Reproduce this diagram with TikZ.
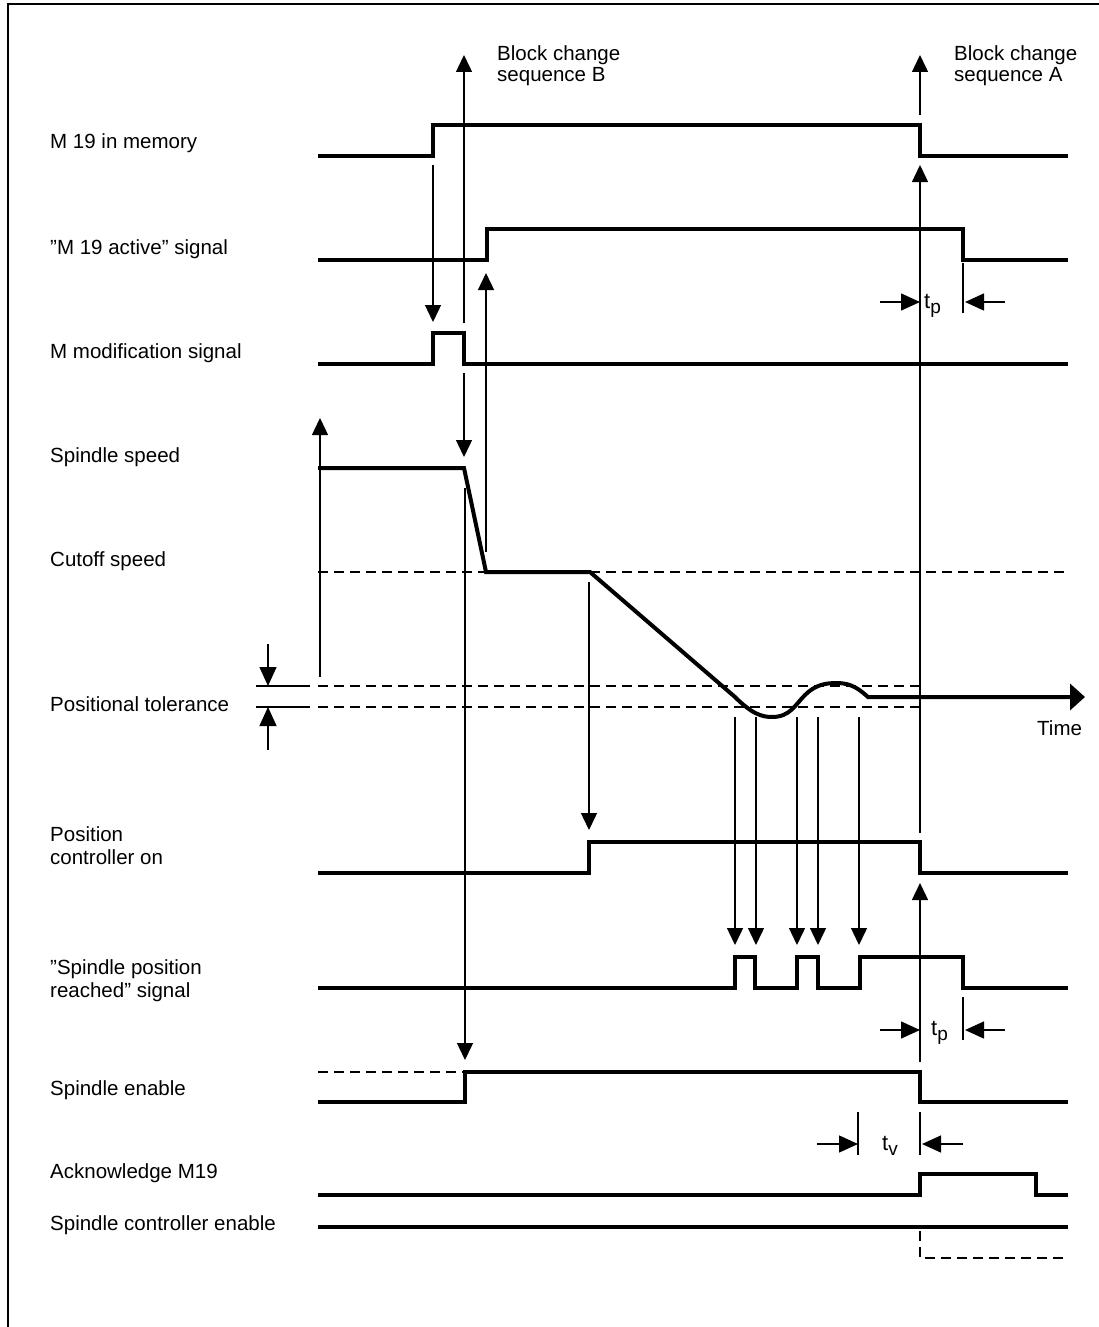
\documentclass[tikz,border=0pt]{standalone}
\usepackage{fontspec}
\setmainfont{Liberation Sans}
\usetikzlibrary{arrows.meta}

\newcommand{\tsub}[1]{t\raisebox{-5pt}{\fontsize{19}{20}\selectfont #1}}

\tikzset{
  sig/.style={line width=4pt,line join=miter},
  evt/.style={line width=1.4pt,-{Triangle[length=17pt,width=16pt]}},
  dim/.style={line width=1.4pt,-{Triangle[length=19pt,width=17pt]}},
  lim/.style={line width=1.4pt,dash pattern=on 10pt off 6pt},
  lbl/.style={anchor=base west,inner sep=0pt,font=\fontsize{20.5}{24.5}\selectfont},
  tlbl/.style={anchor=base west,inner sep=0pt,font=\fontsize{22}{24}\selectfont},
}

\begin{document}
\begin{tikzpicture}[x=1pt,y=-1pt]
\useasboundingbox (0,0) rectangle (1099,1327);
\draw[line width=1.4pt] (8,1327)--(8,4)--(1099,4);

% signal names
\foreach \txt/\y/\nm in {M 19 in memory/149/mem,”M 19 active” signal/254/act,
  M modification signal/358/mod,Spindle speed/462/spd,Cutoff speed/566/cut,
  Positional tolerance/711/tol,Position/841/posa,controller on/864/posb,
  ”Spindle position/974/rcha,reached” signal/997/rchb,Spindle enable/1095/ena,
  Acknowledge M19/1178/ack,Spindle controller enable/1230/ctl}
  \node[lbl] (\nm) at (50,\y) {\txt};
\node[lbl] (blkB1) at (497,61) {Block change};
\node[lbl] (blkB2) at (497,82) {sequence B};
\node[lbl] (blkA1) at (954,61) {Block change};
\node[lbl] (blkA2) at (954,82) {sequence A};
\node[lbl] (time) at (1037,735) {Time};

% signals
\draw[sig] (318,156)--(433,156)--(433,125)--(920,125)--(920,156)--(1068,156);
\draw[sig] (318,260)--(487,260)--(487,229)--(963,229)--(963,260)--(1068,260);
\draw[sig] (318,364)--(433,364)--(433,333)--(464,333)--(464,364)--(1068,364);
\draw[sig,-{Triangle[length=15pt,width=26pt]}] (318,468)--(464,468)--(486,572)--(590,572)--(735,697)
  .. controls (752,714) and (762,717) .. (772,717) .. controls (790,717) and (795,705) .. (805,695)
  .. controls (815,685) and (825,683) .. (837,683) .. controls (852,683) and (860,690) .. (868,697)
  --(1085,697);
\draw[sig] (318,873)--(589,873)--(589,842)--(920,842)--(920,873)--(1068,873);
\draw[sig] (318,988)--(735,988)--(735,957)--(755,957)--(755,988)--(797,988)--(797,957)
  --(818,957)--(818,988)--(860,988)--(860,957)--(963,957)--(963,988)--(1068,988);
\draw[sig] (318,1102)--(465,1102)--(465,1072)--(920,1072)--(920,1102)--(1068,1102);
\draw[sig] (318,1195)--(920,1195)--(920,1174)--(1036,1174)--(1036,1195)--(1068,1195);
\draw[sig] (318,1227)--(1068,1227);

% limits
\draw[lim] (318,572)--(1068,572);
\draw[lim] (318,686)--(920,686);
\draw[lim] (318,707)--(920,707);
\draw[lim] (318,1072)--(465,1072);
\draw[lim] (920,1231)--(920,1258)--(1068,1258);
\draw[line width=1.4pt] (256,686)--(310,686) (256,707)--(310,707);
\draw[dim] (268,644)--(268,686);
\draw[dim] (268,750)--(268,707);

% events
\draw[evt] (320,677)--(320,418);
\draw[evt] (433,165)--(433,322);
\draw[evt] (464,323)--(464,55);
\draw[evt] (464,373)--(464,457);
\draw[evt] (465,488)--(465,1060);
\draw[evt] (486,552)--(486,273);
\draw[evt] (589,582)--(589,830);
\foreach \x in {735,756,797,818,859}
  \draw[evt] (\x,717)--(\x,945);
\draw[evt] (920,115)--(920,55);
\draw[evt] (920,833)--(920,165);
\draw[evt] (920,1062)--(920,883);

% delays
\draw[dim] (880,302)--(920,302);
\draw[dim] (1005,302)--(965,302);
\draw[line width=1.4pt] (963,263)--(963,313);
\node[tlbl] (tpa) at (924,308) {\tsub{p}};
\draw[dim] (880,1030)--(920,1030);
\draw[dim] (1005,1030)--(965,1030);
\draw[line width=1.4pt] (963,997)--(963,1040);
\node[tlbl] (tpb) at (931,1035) {\tsub{p}};
\draw[dim] (817,1144)--(858,1144);
\draw[dim] (963,1144)--(922,1144);
\draw[line width=1.4pt] (858,1112)--(858,1155) (920,1112)--(920,1155);
\node[tlbl] (tv) at (882,1150) {\tsub{v}};
\end{tikzpicture}
\end{document}
